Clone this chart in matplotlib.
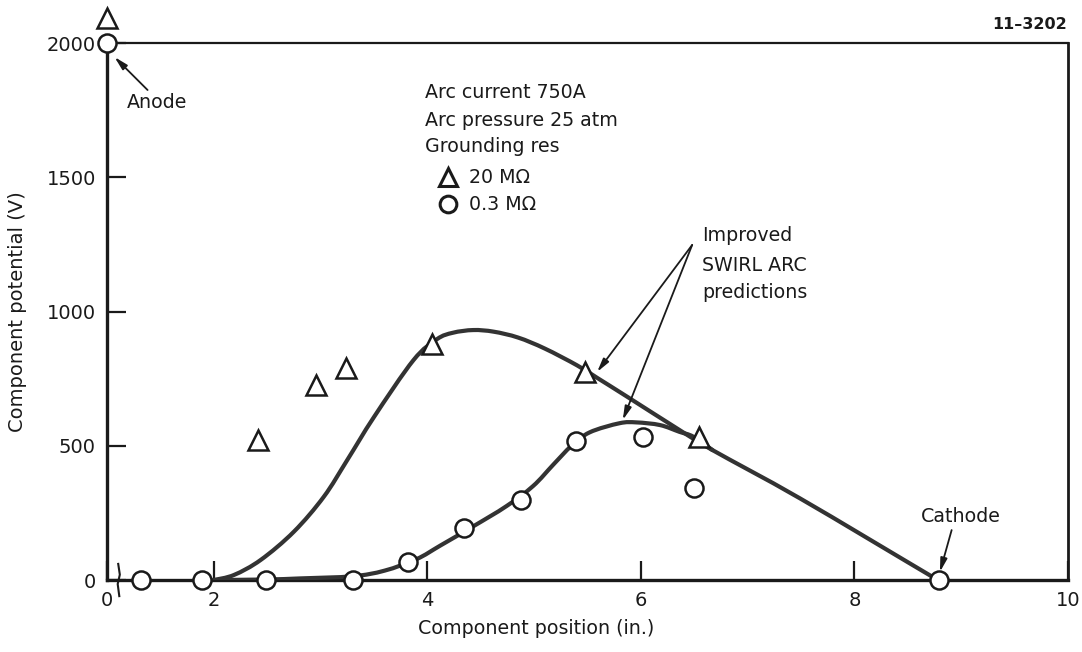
import numpy as np
import matplotlib.pyplot as plt
from matplotlib.path import Path
from matplotlib.patches import PathPatch

plt.rcParams['font.family'] = ['DejaVu Sans']

# broken axis: the "0" position sits at 1.0 in plot units
BREAK_X = 1.0

# 20 MOhm grounding resistance (triangles)
tri_x = [2.41, 2.96, 3.24, 4.04, 5.48, 6.54]
tri_y = [521, 725, 790, 880, 776, 533]

# 0.3 MOhm grounding resistance (circles)
circ_x = [1.32, 1.89, 2.49, 3.30, 3.82, 4.34, 4.88, 5.39, 6.02, 6.50]
circ_y = [0, 0, 0, 0, 68, 192, 298, 518, 534, 344]

anode_tri_y = 2095
anode_circ_y = 2000
cathode_x = 8.79

# SWIRL ARC prediction, 20 MOhm
pred_hi_x = [2.0, 2.19, 2.44, 2.75, 3.03, 3.25, 3.5, 3.87, 4.09, 4.24, 4.43,
             4.62, 4.85, 5.10, 5.40, 5.59, 5.87, 6.36, 6.67, 7.49, 8.70, 8.79]
pred_hi_y = [0, 19, 75, 180, 310, 447, 607, 819, 897, 921, 931,
             925, 903, 862, 800, 753, 683, 559, 484, 304, 19, 0]

# SWIRL ARC prediction, 0.3 MOhm
pred_lo_x = [2.0, 2.5, 2.81, 3.3, 3.6, 3.90, 4.12, 4.43, 4.74, 4.99, 5.18,
             5.35, 5.52, 5.80, 5.96, 6.18, 6.36, 6.49, 6.67]
pred_lo_y = [0, 2, 6, 14, 35, 78, 128, 200, 275, 350, 430,
             500, 550, 584, 587, 577, 552, 534, 484]

x_ticks = [BREAK_X, 2, 4, 6, 8, 10]
x_tick_labels = ['0', '2', '4', '6', '8', '10']
y_ticks = [0, 500, 1000, 1500, 2000]

ink = '#1a1a1a'


def smooth_curve(xs, ys):
    # Catmull-Rom through the points, written as cubic Bezier segments
    pts = np.column_stack([xs, ys]).astype(float)
    n = len(pts)
    verts = [pts[0]]
    codes = [Path.MOVETO]
    for i in range(n - 1):
        p0 = pts[max(i - 1, 0)]
        p1 = pts[i]
        p2 = pts[i + 1]
        p3 = pts[min(i + 2, n - 1)]
        verts += [p1 + (p2 - p0) / 6, p2 - (p3 - p1) / 6, p2]
        codes += [Path.CURVE4] * 3
    return Path(verts, codes)


fig = plt.figure(figsize=(10.82, 6.52), dpi=100)
ax = fig.add_axes([0.0989, 0.1104, 0.8882, 0.8236])
ax.set_xlim(BREAK_X, 10.0)
ax.set_ylim(0, 2000)

for xs, ys in [(pred_hi_x, pred_hi_y), (pred_lo_x, pred_lo_y)]:
    ax.add_patch(PathPatch(smooth_curve(xs, ys), facecolor='none', edgecolor='#333333',
                           lw=3.0, capstyle='round', joinstyle='round', zorder=3))

mk = dict(linestyle='none', markerfacecolor='white', markeredgecolor=ink,
          markeredgewidth=1.8, clip_on=False, zorder=5)
ax.plot(tri_x, tri_y, marker='^', markersize=14, **mk)
ax.plot(circ_x, circ_y, marker='o', markersize=13, **mk)
ax.plot([BREAK_X], [anode_tri_y], marker='^', markersize=14, **mk)
ax.plot([BREAK_X], [anode_circ_y], marker='o', markersize=13, **mk)
ax.plot([cathode_x], [0], marker='o', markersize=13, **mk)

# axis break squiggle
ax.plot([1.115, 1.10, 1.12, 1.105], [-60, -15, 20, 60], color=ink, lw=1.5,
        clip_on=False, zorder=4)

for side in ['left', 'bottom', 'right', 'top']:
    ax.spines[side].set_color(ink)
ax.spines['left'].set_linewidth(2.4)
ax.spines['bottom'].set_linewidth(2.4)
ax.spines['right'].set_linewidth(2.0)
ax.spines['top'].set_linewidth(1.6)

ax.set_xticks(x_ticks)
ax.set_xticklabels(x_tick_labels)
ax.set_yticks(y_ticks)
ax.tick_params(direction='in', length=14, width=1.6, color=ink, labelsize=14,
               pad=8, labelcolor=ink)

ax.set_xlabel('Component position (in.)', fontsize=13.7, color=ink)
ax.xaxis.set_label_coords(0.446, -0.073)
ax.set_ylabel('Component potential (V)', fontsize=14, color=ink)
ax.yaxis.set_label_coords(-0.083, 0.5)

# conditions block with marker key
txt = dict(fontsize=13.7, color=ink, va='center', ha='left')
ax.text(3.98, 1817, 'Arc current 750A', **txt)
ax.text(3.98, 1713, 'Arc pressure 25 atm', **txt)
ax.text(3.98, 1613, 'Grounding res', **txt)
key = dict(mk, markeredgewidth=2.2)
ax.plot([4.19], [1501], marker='^', markersize=13, **key)
ax.plot([4.19], [1400], marker='o', markersize=12, **key)
ax.text(4.39, 1501, '20 M\u03a9', **txt)
ax.text(4.39, 1400, '0.3 M\u03a9', **txt)

arrow = dict(arrowstyle='-|>,head_length=0.8,head_width=0.2', color=ink, lw=1.3,
             shrinkA=0, shrinkB=0)
ax.text(1.47, 1777, 'Anode', fontsize=13.7, color=ink, ha='center', va='center')
ax.annotate('', xy=(1.07, 1948), xytext=(1.38, 1825), arrowprops=arrow)
ax.text(9.0, 238, 'Cathode', fontsize=13.7, color=ink, ha='center', va='center')
ax.annotate('', xy=(8.80, 30), xytext=(8.91, 186), arrowprops=arrow)

for label, yv in [('Improved', 1282), ('SWIRL ARC', 1173), ('predictions', 1069)]:
    ax.text(6.57, yv, label, **txt)
ax.annotate('', xy=(5.59, 775), xytext=(6.48, 1248), arrowprops=arrow)
ax.annotate('', xy=(5.83, 596), xytext=(6.48, 1248), arrowprops=arrow)

fig.text(0.986, 0.962, '11\u20133202', fontsize=11.5, fontweight='bold', color=ink,
         ha='right', va='center')

fig.savefig('out.png', dpi=100, facecolor='white')
